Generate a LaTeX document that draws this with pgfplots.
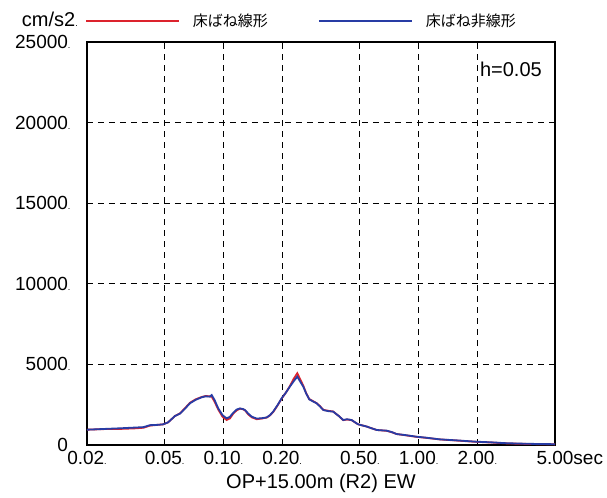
\documentclass[border=0pt]{standalone}
\usepackage{fontspec}
\setmainfont{Liberation Sans}
\newfontfamily\jp{Noto Sans CJK JP}
\usepackage{pgfplots}
\pgfplotsset{compat=1.18}
\definecolor{cred}{RGB}{220,35,45}
\definecolor{cblue}{RGB}{40,60,165}
\newcommand{\td}{{\fontsize{9bp}{9bp}\selectfont.}}
\begin{document}
\begin{tikzpicture}
\begin{axis}[
  scale only axis, width=468bp, height=403bp,
  xmode=log, xmin=0.02, xmax=5, ymin=0, ymax=25000,
  scaled y ticks=false, scaled x ticks=false,
  xtick={0.02,0.05,0.1,0.2,0.5,1,2,5},
  xticklabels={0.02\td,0.05\td,0.10\td,0.20\td,0.50\td,1.00\td,2.00\td,5.00\rlap{sec}},
  ytick={0,5000,10000,15000,20000,25000},
  yticklabels={{0\hphantom{\td}\hspace{2bp}},5000\td,10000\td,15000\td,20000\td,25000\td},
  minor xtick={}, minor ytick={},
  grid=major,
  major grid style={black, line width=0.8bp, dash pattern=on 6bp off 5bp},
  axis line style={line width=1.3bp},
  major tick length=0pt,
  tick style={draw=none},
  /pgf/number format/assume math mode=true,
  ticklabel style={font=\fontsize{19bp}{22bp}\selectfont},
  xticklabel style={yshift=-3bp},
  yticklabel style={anchor=east, xshift=-13bp},
  xlabel={OP+15.00m (R2) EW},
  xlabel style={font=\fontsize{20bp}{24bp}\selectfont, at={(axis description cs:0.5,0)}, anchor=center, yshift=-38bp},
  legend columns=2,
  legend style={draw=none, fill=none, at={(axis description cs:0,1)}, anchor=west, xshift=-2bp, yshift=21bp,
    inner sep=0pt, font=\jp\fontsize{15bp}{18bp}\selectfont,
    nodes={inner sep=0pt},
    /tikz/every even column/.append style={column sep=50bp},
    /tikz/every odd column/.append style={column sep=13bp}},
  legend image code/.code={\draw[#1] (0bp,0bp) -- (93bp,0bp);},
  clip=false,
]
\addplot[cred, line width=1.8bp] coordinates {
(0.020,950) (0.025,990) (0.030,1000) (0.035,1030) (0.039,1070) (0.042,1200) (0.046,1250) (0.049,1280)
(0.052,1400) (0.0565,1800) (0.060,1970) (0.0635,2280) (0.0674,2620) (0.072,2830) (0.0774,2980)
(0.081,3040) (0.0853,3020) (0.0871,3000) (0.090,2700) (0.0941,2200) (0.099,1750) (0.1039,1550)
(0.108,1650) (0.1123,1950) (0.117,2150) (0.1216,2250) (0.126,2220) (0.129,2150) (0.134,1900)
(0.1396,1720) (0.148,1600) (0.157,1640) (0.1666,1700) (0.173,1830) (0.18,2050) (0.19,2480)
(0.1988,2880) (0.209,3250) (0.219,3650) (0.229,4100) (0.239,4450) (0.247,4100) (0.2566,3680)
(0.2654,3220) (0.2754,2850) (0.288,2720) (0.300,2600) (0.312,2420) (0.325,2180) (0.345,2120)
(0.365,2080) (0.39,1800) (0.411,1540) (0.43,1580) (0.454,1540) (0.48,1350) (0.491,1280)
(0.54,1150) (0.61,930) (0.686,880) (0.73,790) (0.772,680) (0.85,610) (0.969,510) (1.1,440)
(1.286,345) (1.6,270) (1.944,200) (2.4,150) (2.83,100) (3.5,70) (4.2,50) (5.0,40)
};
\addlegendentry{床ばね線形}
\addplot[cblue, line width=1.8bp] coordinates {
(0.020,950) (0.025,1000) (0.030,1040) (0.035,1080) (0.039,1110) (0.042,1230) (0.046,1250) (0.049,1280)
(0.052,1400) (0.0565,1800) (0.060,1950) (0.0635,2250) (0.0674,2590) (0.072,2800) (0.0774,2960)
(0.081,3020) (0.0853,3000) (0.0871,3100) (0.090,2800) (0.0941,2270) (0.099,1850) (0.1039,1650)
(0.108,1750) (0.1123,2000) (0.117,2200) (0.1216,2270) (0.126,2230) (0.129,2170) (0.134,1950)
(0.1396,1760) (0.148,1640) (0.157,1660) (0.1666,1710) (0.173,1850) (0.18,2070) (0.19,2500)
(0.1988,2900) (0.209,3250) (0.219,3620) (0.229,3950) (0.239,4240) (0.247,3950) (0.2566,3620)
(0.2654,3200) (0.2754,2830) (0.288,2700) (0.300,2590) (0.312,2400) (0.325,2170) (0.345,2100)
(0.365,2070) (0.39,1800) (0.411,1550) (0.43,1600) (0.454,1550) (0.48,1350) (0.491,1280)
(0.54,1150) (0.61,930) (0.686,890) (0.73,800) (0.772,680) (0.85,620) (0.969,520) (1.1,450)
(1.286,350) (1.6,280) (1.944,210) (2.4,160) (2.83,110) (3.5,80) (4.2,60) (5.0,50)
};
\addlegendentry{床ばね非線形}
\coordinate (SW) at (rel axis cs:0,0);
\coordinate (NW) at (rel axis cs:0,1);
\coordinate (NE) at (rel axis cs:1,1);
\end{axis}
\node[anchor=east, inner sep=0pt, font=\fontsize{20bp}{24bp}\selectfont] at ([xshift=-9bp,yshift=23bp]NW) {cm/s2\td};
\node[anchor=east, inner sep=0pt, font=\fontsize{20bp}{24bp}\selectfont] at ([xshift=-13bp,yshift=-27bp]NE) {h=0.05};
\pgfresetboundingbox
\path[use as bounding box] ([shift={(-87bp,-53bp)}]SW) rectangle ([shift={(520bp,445bp)}]SW);
\end{tikzpicture}
\end{document}
